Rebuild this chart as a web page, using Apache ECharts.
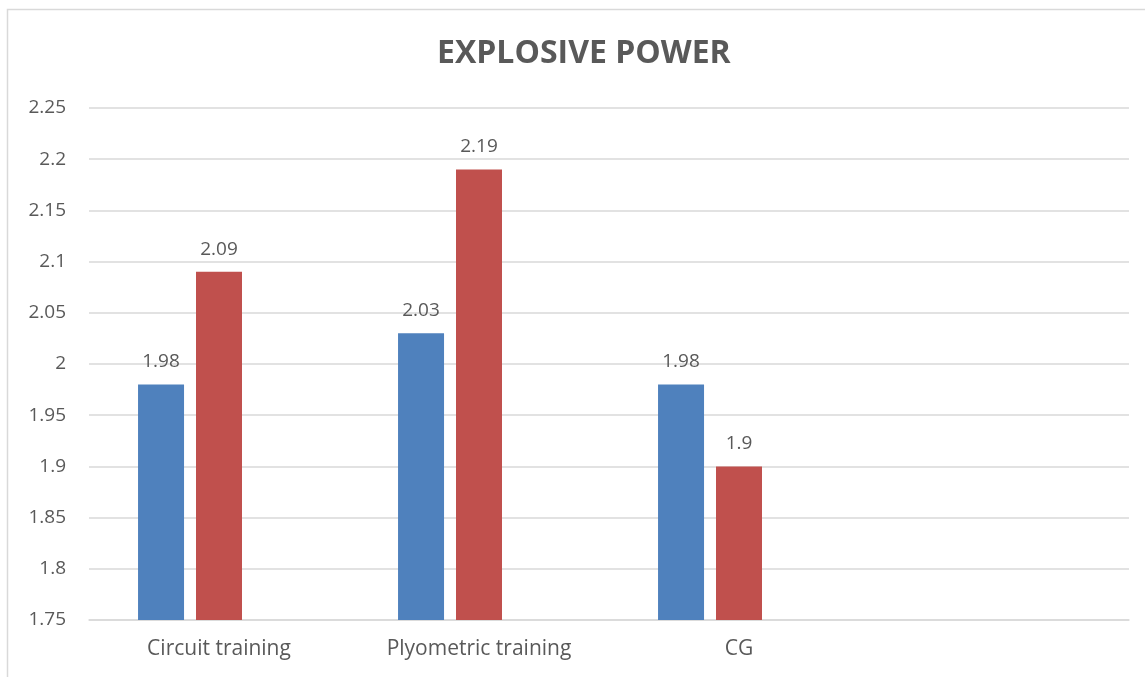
<!DOCTYPE html>
<html>
<head>
<meta charset="utf-8">
<script src="https://cdn.jsdelivr.net/npm/echarts@6/dist/echarts.min.js"></script>
<style>
  html, body { margin: 0; padding: 0; background: #fff; }
  #chart { width: 1145px; height: 677px; }
</style>
</head>
<body>
<div id="chart"></div>
<script>
// 数据
const categories = ['Circuit training', 'Plyometric training', 'CG', '']
const seriesA = [1.98, 2.03, 1.98, null]
const seriesB = [2.09, 2.19, 1.9, null]
const seriesC = [null, null, null, null]

const textColor = '#595959'
const font = 'Open Sans'

const label = {
  show: true,
  position: 'top',
  distance: 13,
  color: textColor,
  fontSize: 19,
  fontFamily: font,
}

const chart = echarts.init(document.getElementById('chart'))

chart.setOption({
  animation: false,
  title: {
    text: 'EXPLOSIVE POWER',
    left: 432,
    top: 33,
    textStyle: { color: textColor, fontSize: 32, fontWeight: 'bold', fontFamily: font },
  },
  graphic: [{
    type: 'rect',
    shape: { x: 7.5, y: 9.5, width: 1200, height: 800 },
    style: { fill: 'none', stroke: '#d9d9d9', lineWidth: 1.5 },
    silent: true,
  }],
  grid: { left: 89, right: 16, top: 108, bottom: 57, containLabel: false },
  xAxis: {
    type: 'category',
    data: categories,
    axisLine: { show: true, lineStyle: { color: '#d9d9d9', width: 1.5 } },
    axisTick: { show: false },
    axisLabel: { color: textColor, fontSize: 21, fontFamily: font, margin: 19 },
  },
  yAxis: {
    type: 'value',
    min: 1.75,
    max: 2.25,
    interval: 0.05,
    axisLine: { show: false },
    axisTick: { show: false },
    splitLine: { lineStyle: { color: '#d9d9d9', width: 1.5 } },
    axisLabel: {
      color: textColor, fontSize: 19, fontFamily: font, margin: 23,
      formatter: v => String(Math.round(v * 100) / 100),
    },
  },
  series: [
    { type: 'bar', data: seriesA, barWidth: 46, barGap: '26%', itemStyle: { color: '#4F81BD' }, label },
    { type: 'bar', data: seriesB, barWidth: 46, barGap: '26%', itemStyle: { color: '#C0504D' }, label },
    { type: 'bar', data: seriesC, barWidth: 46, barGap: '26%', itemStyle: { color: '#9BBB59' } },
  ],
})
</script>
</body>
</html>
